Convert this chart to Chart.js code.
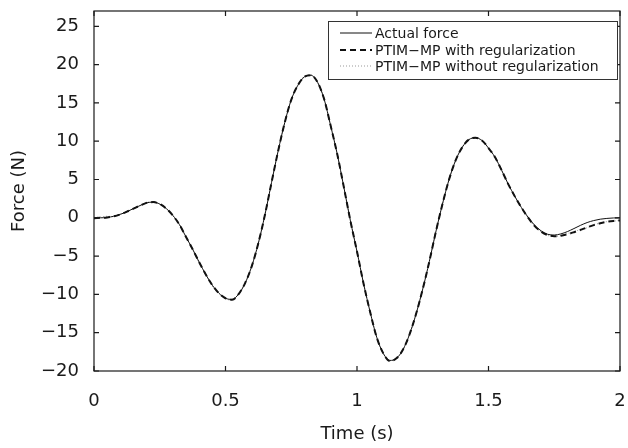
<!DOCTYPE html>
<html>
<head>
<meta charset="utf-8">
<script src="https://cdn.jsdelivr.net/npm/chart.js@4.4.1/dist/chart.umd.min.js"></script>
<style>
  html, body { margin: 0; padding: 0; background: #fff; }
  #wrap { width: 628px; height: 448px; }
</style>
</head>
<body>
<div id="wrap"><canvas id="grafico"></canvas></div>
<script>
// datos (paso de 0.025 s)
const tiempo = [0, 0.025, 0.05, 0.075, 0.1, 0.125, 0.15, 0.175, 0.2, 0.225,
  0.25, 0.275, 0.3, 0.325, 0.35, 0.375, 0.4, 0.425, 0.45, 0.475,
  0.5, 0.525, 0.55, 0.575, 0.6, 0.625, 0.65, 0.675, 0.7, 0.725,
  0.75, 0.775, 0.8, 0.825, 0.85, 0.875, 0.9, 0.925, 0.95, 0.975,
  1.0, 1.025, 1.05, 1.075, 1.1, 1.125, 1.15, 1.175, 1.2, 1.225,
  1.25, 1.275, 1.3, 1.325, 1.35, 1.375, 1.4, 1.425, 1.45, 1.475,
  1.5, 1.525, 1.55, 1.575, 1.6, 1.625, 1.65, 1.675, 1.7, 1.725,
  1.75, 1.775, 1.8, 1.825, 1.85, 1.875, 1.9, 1.925, 1.95, 1.975, 2.0];
const fuerzaReal = [0, 0, 0.05, 0.2, 0.45, 0.8, 1.2, 1.6, 1.95, 2.05,
  1.8, 1.2, 0.3, -0.9, -2.5, -4.1, -5.8, -7.4, -8.8, -9.85,
  -10.5, -10.65, -9.95, -8.5, -6.3, -3.3, 0.4, 4.6, 8.7, 12.4,
  15.4, 17.3, 18.4, 18.6, 17.7, 15.5, 12.0, 8.3, 4.0, -0.4,
  -4.4, -8.6, -12.3, -15.6, -17.7, -18.62, -18.35, -17.2, -15.2, -12.5,
  -9.3, -5.7, -1.8, 1.8, 5.0, 7.5, 9.2, 10.2, 10.45, 10.1,
  9.1, 7.9, 6.2, 4.4, 2.8, 1.35, 0.1, -0.95, -1.7, -2.15,
  -2.25, -2.1, -1.8, -1.4, -0.98, -0.62, -0.36, -0.18, -0.08, -0.02, 0];
const conRegularizacion = [-0.05, 0, 0.05, 0.2, 0.45, 0.8, 1.2, 1.6, 1.95, 2.05,
  1.8, 1.2, 0.3, -0.9, -2.5, -4.1, -5.8, -7.4, -8.8, -9.85,
  -10.5, -10.7, -9.95, -8.5, -6.3, -3.3, 0.4, 4.6, 8.7, 12.4,
  15.4, 17.3, 18.4, 18.6, 17.7, 15.5, 12.0, 8.3, 4.0, -0.4,
  -4.4, -8.6, -12.3, -15.6, -17.7, -18.7, -18.35, -17.2, -15.2, -12.5,
  -9.3, -5.7, -1.8, 1.8, 5.0, 7.5, 9.2, 10.2, 10.45, 10.1,
  9.1, 7.9, 6.2, 4.4, 2.8, 1.35, 0.05, -1.05, -1.8, -2.25,
  -2.4, -2.35, -2.15, -1.88, -1.58, -1.25, -0.95, -0.7, -0.52, -0.41, -0.35];
const sinRegularizacion = [0.05, 0.1, 0.2, 0.15, 0.5, 0.75, 1.25, 1.55, 2.0, 2.1,
  1.75, 1.25, 0.25, -0.85, -2.55, -4.05, -5.85, -7.35, -8.9, -9.8,
  -10.55, -10.75, -9.9, -8.55, -6.25, -3.35, 0.45, 4.55, 8.75, 12.35,
  15.45, 17.25, 18.5, 18.7, 17.65, 15.55, 11.95, 8.35, 3.95, -0.35,
  -4.45, -8.55, -12.35, -15.55, -17.75, -18.7, -18.3, -17.25, -15.15, -12.55,
  -9.25, -5.75, -1.75, 1.75, 5.05, 7.45, 9.25, 10.15, 10.5, 10.05,
  9.15, 7.85, 6.25, 4.35, 2.85, 1.3, 0.0, -1.1, -1.85, -2.3,
  -2.45, -2.3, -2.05, -1.85, -1.5, -1.3, -0.9, -0.7, -0.5, -0.45, -0.3];
const ticksX = [0, 0.5, 1, 1.5, 2];
const ticksY = [-20, -15, -10, -5, 0, 5, 10, 15, 20, 25];
const etiquetas = ['Actual force', 'PTIM\u2212MP with regularization', 'PTIM\u2212MP without regularization'];

const fuente = '"DejaVu Sans", sans-serif';
const negro = '#1a1a1a';

function puntos(valores) {
  return tiempo.map((t, i) => ({ x: t, y: valores[i] }));
}

function formato(v) {
  return String(v).replace('-', '\u2212');
}

// marco con marcas hacia dentro en los cuatro lados
const marco = {
  id: 'marco',
  afterDraw(chart) {
    const { ctx, chartArea: a, scales: { x, y } } = chart;
    ctx.save();
    ctx.strokeStyle = negro;
    ctx.lineWidth = 1.2;
    ctx.strokeRect(a.left, a.top, a.right - a.left, a.bottom - a.top);
    ctx.beginPath();
    x.ticks.forEach(t => {
      const px = x.getPixelForValue(t.value);
      ctx.moveTo(px, a.bottom); ctx.lineTo(px, a.bottom - 5);
      ctx.moveTo(px, a.top); ctx.lineTo(px, a.top + 5);
    });
    y.ticks.forEach(t => {
      const py = y.getPixelForValue(t.value);
      ctx.moveTo(a.left, py); ctx.lineTo(a.left + 5, py);
      ctx.moveTo(a.right, py); ctx.lineTo(a.right - 5, py);
    });
    ctx.stroke();

    // leyenda dentro del area
    const w = 289, h = 58;
    const bx = a.right - 3 - w, by = a.top + 10;
    ctx.fillStyle = '#fff';
    ctx.fillRect(bx, by, w, h);
    ctx.lineWidth = 1;
    ctx.strokeStyle = '#333';
    ctx.strokeRect(bx + 0.5, by + 0.5, w, h);
    const filas = [12, 29, 45];
    chart.data.datasets.forEach((ds, i) => {
      const ly = by + filas[i];
      ctx.beginPath();
      ctx.strokeStyle = ds.borderColor;
      ctx.lineWidth = ds.borderWidth;
      ctx.setLineDash(ds.borderDash || []);
      ctx.moveTo(bx + 12, ly); ctx.lineTo(bx + 44, ly);
      ctx.stroke();
      ctx.setLineDash([]);
      ctx.fillStyle = negro;
      ctx.font = '14px ' + fuente;
      ctx.textBaseline = 'middle';
      ctx.fillText(ds.label, bx + 47, ly + 1);
    });
    ctx.restore();
  }
};

new Chart(document.getElementById('grafico'), {
  type: 'line',
  data: {
    datasets: [
      {
        label: etiquetas[0],
        data: puntos(fuerzaReal),
        borderColor: '#111',
        borderWidth: 1,
        pointRadius: 0,
        cubicInterpolationMode: 'monotone'
      },
      {
        label: etiquetas[1],
        data: puntos(conRegularizacion),
        borderColor: '#111',
        borderWidth: 2,
        borderDash: [6, 4],
        pointRadius: 0,
        cubicInterpolationMode: 'monotone'
      },
      {
        label: etiquetas[2],
        data: puntos(sinRegularizacion),
        borderColor: '#999',
        borderWidth: 1,
        borderDash: [1, 2],
        pointRadius: 0,
        cubicInterpolationMode: 'monotone'
      }
    ]
  },
  options: {
    responsive: true,
    maintainAspectRatio: false,
    animation: false,
    layout: { padding: { top: 11, right: 8, left: 0, bottom: 0 } },
    plugins: {
      legend: { display: false },
      tooltip: { enabled: false }
    },
    scales: {
      x: {
        type: 'linear',
        min: 0,
        max: 2,
        afterBuildTicks: s => { s.ticks = ticksX.map(v => ({ value: v })); },
        afterFit: s => { s.height = 77; s.paddingLeft = 0; s.paddingRight = 0; },
        grid: { display: false, drawTicks: false },
        border: { display: false },
        ticks: { color: negro, font: { family: fuente, size: 18 }, padding: 20, maxRotation: 0, callback: formato },
        title: { display: true, text: 'Time (s)', color: negro, font: { family: fuente, size: 18 }, padding: { top: 0, bottom: 3 } }
      },
      y: {
        min: -20,
        max: 27,
        afterBuildTicks: s => { s.ticks = ticksY.map(v => ({ value: v })); },
        afterFit: s => { s.width = 94; s.paddingTop = 0; s.paddingBottom = 0; },
        grid: { display: false, drawTicks: false },
        border: { display: false },
        ticks: { color: negro, font: { family: fuente, size: 18 }, padding: 15, callback: formato },
        title: { display: true, text: 'Force (N)', color: negro, font: { family: fuente, size: 18 }, padding: { top: 9, bottom: 0 } }
      }
    }
  },
  plugins: [marco]
});
</script>
</body>
</html>
